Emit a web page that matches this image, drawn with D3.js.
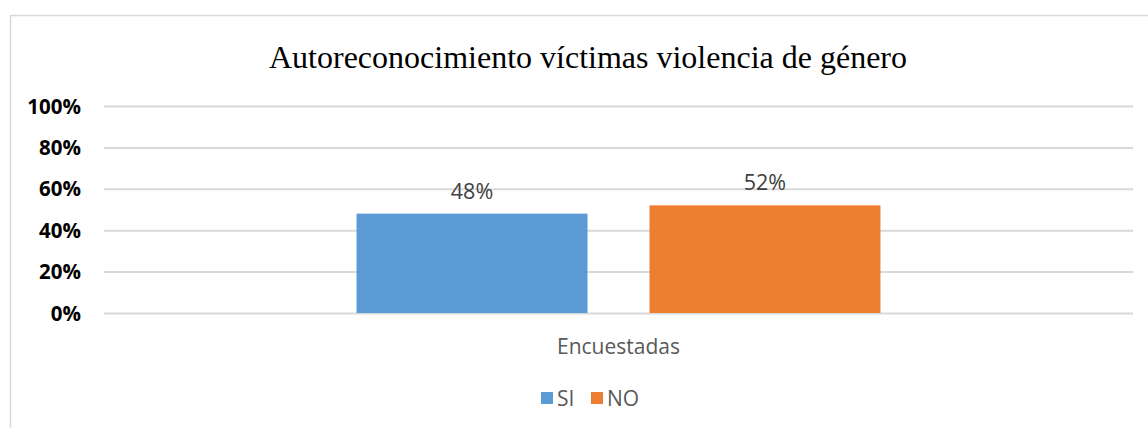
<!DOCTYPE html>
<html>
<head>
<meta charset="utf-8">
<style>
body { margin: 0; background: #fff; }
.grid line { stroke: #d9d9d9; stroke-width: 2px; }
.tick text { font: bold 20.5px "Open Sans", Lato, sans-serif; fill: #000; }
.lbl { font: 21.5px "Open Sans", Lato, sans-serif; fill: #404040; }
.cat { font: 21px "Open Sans", Lato, sans-serif; fill: #595959; }
.title { font: 32px "Liberation Serif", "Times New Roman", serif; fill: #000; }
</style>
<title></title>
</head>
<body>
<script src="https://cdn.jsdelivr.net/npm/d3@7"></script>
<script>

var categories = ["Encuestadas"];
var series = ["SI", "NO"];
var values = [0.48, 0.52];
var colors = ["#5b9bd5", "#ed7d31"];
var ticks = [0, 0.2, 0.4, 0.6, 0.8, 1];

var width = 1148, height = 428;
var plotLeft = 104, plotRight = 1133, plotTop = 106, plotBottom = 313;

var svg = d3.select("body").append("svg")
    .attr("width", width)
    .attr("height", height);

// chart border (right side runs past the picture)
svg.append("rect")
    .attr("x", 10.5).attr("y", 15.5)
    .attr("width", 1160).attr("height", 430)
    .attr("fill", "none")
    .attr("stroke", "#d9d9d9")
    .attr("stroke-width", 1.5);

svg.append("text")
    .attr("class", "title")
    .attr("x", 588).attr("y", 68)
    .attr("text-anchor", "middle")
    .text("Autoreconocimiento víctimas violencia de género");

var y = d3.scaleLinear().domain([0, 1]).range([plotBottom, plotTop]);
var x0 = d3.scaleBand().domain(categories).range([plotLeft, plotRight]).paddingInner(0).paddingOuter(0.482);
var x1 = d3.scaleBand().domain(series).range([0, x0.bandwidth()]).paddingInner(0.2116);

// gridlines + y labels
var yAxis = svg.append("g")
    .attr("class", "grid")
    .attr("transform", "translate(" + plotLeft + ",0)")
    .call(d3.axisLeft(y).tickValues(ticks).tickFormat(d3.format(".0%")).tickSize(-(plotRight - plotLeft)).tickPadding(23));
yAxis.select(".domain").remove();
yAxis.selectAll(".tick text").attr("dy", "0.35em");

var groups = svg.selectAll(".grp")
    .data(categories)
    .enter().append("g")
    .attr("class", "grp")
    .attr("transform", function(d) { return "translate(" + x0(d) + ",0)"; });

groups.selectAll("rect")
    .data(series.map(function(s, i) { return {name: s, value: values[i], color: colors[i]}; }))
    .enter().append("rect")
    .attr("x", function(d) { return x1(d.name); })
    .attr("y", function(d) { return y(d.value); })
    .attr("width", x1.bandwidth())
    .attr("height", function(d) { return y(0) - y(d.value); })
    .attr("fill", function(d) { return d.color; });

groups.selectAll(".lbl")
    .data(series.map(function(s, i) { return {name: s, value: values[i]}; }))
    .enter().append("text")
    .attr("class", "lbl")
    .attr("x", function(d) { return x1(d.name) + x1.bandwidth() / 2; })
    .attr("y", function(d) { return y(d.value) - 15; })
    .attr("text-anchor", "middle")
    .text(function(d) { return d3.format(".0%")(d.value); });

// category label
svg.selectAll(".cat")
    .data(categories)
    .enter().append("text")
    .attr("class", "cat")
    .attr("x", function(d) { return x0(d) + x0.bandwidth() / 2; })
    .attr("y", 354)
    .attr("text-anchor", "middle")
    .text(function(d) { return d; });

// legend
var legendX = [541, 591];
var legend = svg.selectAll(".leg")
    .data(series)
    .enter().append("g")
    .attr("class", "leg")
    .attr("transform", function(d, i) { return "translate(" + legendX[i] + ",392)"; });

legend.append("rect")
    .attr("width", 12).attr("height", 12)
    .attr("fill", function(d, i) { return colors[i]; });

legend.append("text")
    .attr("class", "cat")
    .attr("x", 16).attr("y", 14)
    .text(function(d) { return d; });

</script>
</body>
</html>
